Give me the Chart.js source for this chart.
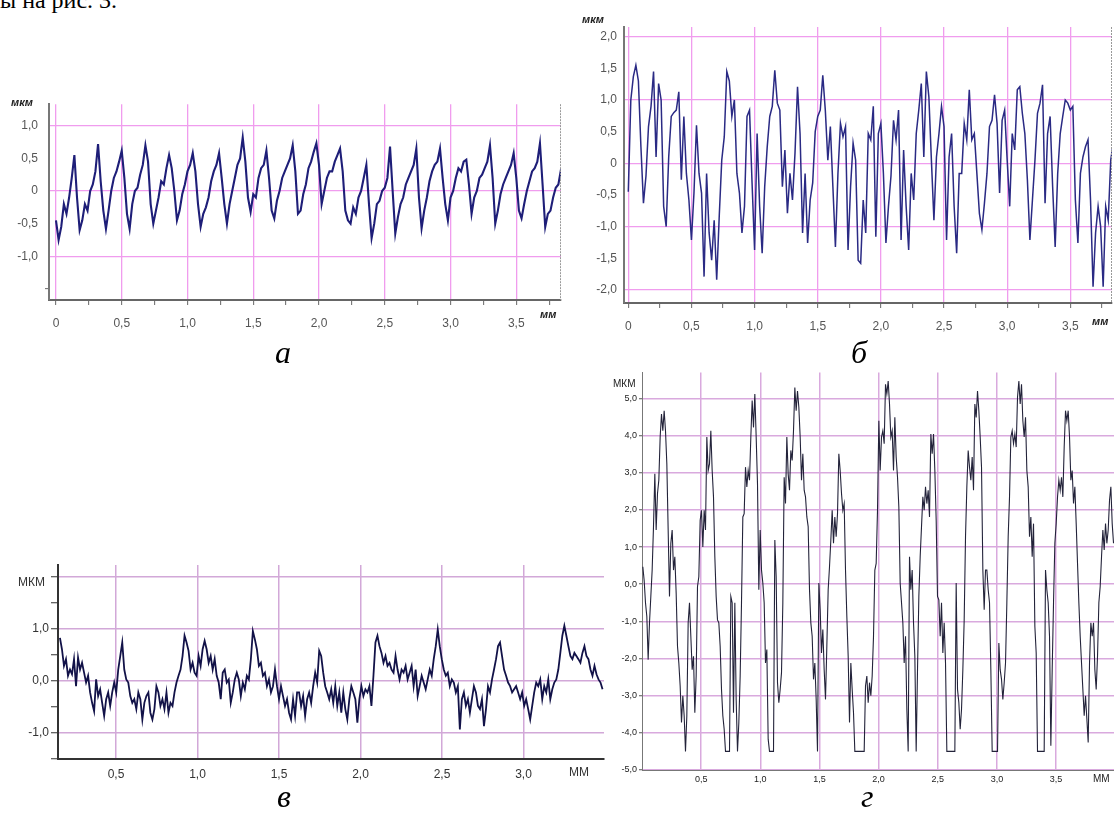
<!DOCTYPE html>
<html>
<head>
<meta charset="utf-8">
<script src="https://cdn.jsdelivr.net/npm/chart.js@4.4.0/dist/chart.umd.min.js"></script>
<style>
  html, body { margin: 0; padding: 0; background: #fff; width: 1114px; height: 816px; overflow: hidden; position: relative; font-family: "Liberation Sans", Arial, sans-serif; }
  .box { position: absolute; }
  .box canvas { display: block; }
  .t { position: absolute; white-space: nowrap; line-height: 1; }
  .cap { font-family: "Liberation Serif", "Times New Roman", serif; font-style: italic; font-size: 32px; color: #000; }
  .u1 { font-style: italic; font-weight: bold; font-size: 11px; color: #222; }
  .u2 { font-size: 12px; color: #333; }
  .u3 { font-size: 10px; color: #222; }
</style>
</head>
<body>
<div class="t" style="left:0;top:-12px;font-family:'Liberation Serif',serif;font-size:24px;">ы на рис. 3.</div>

<div class="box" style="left:0;top:90px;width:575px;height:250px"><canvas id="chartA"></canvas></div>
<div class="box" style="left:575px;top:0;width:539px;height:345px"><canvas id="chartB"></canvas></div>
<div class="box" style="left:0;top:545px;width:615px;height:250px"><canvas id="chartC"></canvas></div>
<div class="box" style="left:600px;top:365px;width:514px;height:451px"><canvas id="chartD"></canvas></div>

<div class="t u1" style="left:11px;top:97px">мкм</div>
<div class="t u1" style="left:540px;top:309px">мм</div>
<div class="t u1" style="left:582px;top:14px">мкм</div>
<div class="t u1" style="left:1092px;top:316px">мм</div>
<div class="t u2" style="left:18px;top:576px">МКМ</div>
<div class="t u2" style="left:569px;top:766px">ММ</div>
<div class="t u3" style="left:613px;top:379px">МКМ</div>
<div class="t u3" style="left:1093px;top:774px">ММ</div>

<div class="t cap" style="left:275px;top:336px">а</div>
<div class="t cap" style="left:851px;top:336px">б</div>
<div class="t cap" style="left:277px;top:780px">в</div>
<div class="t cap" style="left:861px;top:780px">г</div>

<script>
// profile heights, µm, sampled evenly along the trace (mm)
const profileA = [
  -0.45, -0.75, -0.55, -0.2, -0.35, -0.1, 0.2, 0.55, -0.1, -0.6,
  -0.45, -0.2, -0.3, 0.0, 0.1, 0.3, 0.72, 0.15, -0.3, -0.58,
  -0.3, 0.0, 0.2, 0.3, 0.45, 0.62, 0.2, -0.35, -0.58, -0.2,
  0.0, 0.05, 0.25, 0.4, 0.7, 0.45, -0.2, -0.5, -0.3, -0.1,
  0.15, 0.1, 0.35, 0.55, 0.35, 0.0, -0.45, -0.3, -0.05, 0.1,
  0.3, 0.4, 0.58, 0.3, -0.2, -0.55, -0.35, -0.25, -0.1, 0.15,
  0.3, 0.4, 0.58, 0.2, -0.2, -0.5, -0.2, 0.0, 0.2, 0.4,
  0.5, 0.82, 0.45, -0.1, -0.32, -0.05, -0.1, 0.2, 0.35, 0.4,
  0.62, 0.2, -0.3, -0.42, -0.15, 0.0, 0.2, 0.3, 0.4, 0.5,
  0.7, 0.3, -0.35, -0.3, -0.05, 0.1, 0.35, 0.45, 0.6, 0.73,
  0.4, -0.2, 0.0, 0.2, 0.3, 0.3, 0.45, 0.55, 0.65, 0.3,
  -0.3, -0.45, -0.5, -0.25, -0.35, -0.1, 0.0, 0.2, 0.4, -0.2,
  -0.72, -0.5, -0.2, -0.15, 0.0, 0.05, 0.2, 0.68, 0.0, -0.65,
  -0.4, -0.2, -0.1, 0.1, 0.2, 0.3, 0.4, 0.65, -0.1, -0.57,
  -0.3, -0.1, 0.15, 0.3, 0.4, 0.45, 0.65, 0.2, -0.2, -0.45,
  -0.1, 0.0, 0.2, 0.35, 0.3, 0.45, 0.48, 0.1, -0.35, -0.1,
  0.0, 0.2, 0.25, 0.35, 0.45, 0.7, 0.2, -0.5, -0.3, -0.05,
  0.1, 0.2, 0.3, 0.4, 0.58, 0.2, -0.3, -0.42, -0.2, 0.0,
  0.15, 0.3, 0.35, 0.45, 0.73, 0.1, -0.55, -0.35, -0.3, -0.1,
  0.05, 0.1, 0.33
];

const profileB = [
  -0.45, 1.0, 1.37, 1.55, 1.3, 0.26, -0.63, -0.2, 0.58, 0.9,
  1.45, 0.1, 1.26, 1.0, -0.68, -1.0, 0.1, 0.74, 0.8, 0.84,
  1.13, -0.26, 0.74, -0.16, -0.58, -1.21, -0.47, 0.6, -0.16, -0.47,
  -1.79, -0.16, -1.1, -1.53, -0.9, -1.84, -0.84, 0.05, 0.42, 1.45,
  1.3, 0.74, 1.0, -0.16, -0.47, -1.1, -0.68, 0.74, 0.84, -0.31,
  -1.37, 0.47, -0.68, -1.42, -0.37, 0.26, 0.74, 0.9, 1.47, 0.95,
  0.84, -0.37, 0.21, -0.79, -0.16, -0.58, 0.16, 1.21, 0.47, -1.1,
  -0.16, -1.26, -0.58, -0.31, 0.5, 0.74, 0.84, 1.39, 0.84, 0.05,
  0.58, -0.37, -1.32, -0.16, 0.63, 0.42, 0.58, -1.37, -0.37, 0.32,
  0.05, -1.53, -1.58, -0.58, -1.1, 0.47, 0.37, 0.9, -1.16, 0.47,
  0.63, -0.16, -1.26, -0.68, -0.2, 0.68, 0.37, 0.84, -1.21, 0.21,
  -0.68, -1.37, -0.16, -0.58, 0.47, 0.84, 1.26, 0.1, 1.45, 1.05,
  0.05, -0.9, 0.1, 0.47, 0.9, 0.58, -1.21, 0.1, 0.47, -0.68,
  -1.42, -0.16, -0.16, 0.63, 0.37, 1.16, 0.37, 0.47, -0.16, -0.79,
  -1.05, -0.63, -0.16, 0.58, 0.68, 1.08, 0.63, -0.47, 0.68, 0.84,
  0.05, -0.68, 0.47, 0.21, 1.16, 1.21, 0.79, 0.47, -0.26, -1.21,
  -0.58, 0.05, 0.79, 0.95, 1.24, -0.63, 0.47, 0.74, -0.37, -1.32,
  -0.16, 0.47, 0.74, 1.0, 0.95, 0.84, 0.9, -0.58, -1.26, -0.16,
  0.1, 0.26, 0.37, -0.58, -1.95, -1.1, -0.68, -1.0, -1.95, -0.68,
  -0.9, 0.05, 0.32
];

const profileC = [
  0.83, 0.61, 0.29, 0.42, 0.1, 0.22, 0.13, 0.42, -0.1, 0.45,
  0.22, 0.35, 0.16, -0.03, 0.1, -0.22, -0.42, -0.58, 0.03, -0.29,
  -0.16, -0.42, -0.67, -0.35, -0.22, -0.48, -0.22, -0.03, -0.22, 0.22,
  0.48, 0.74, 0.22, 0.03, -0.03, -0.29, -0.42, -0.35, -0.54, -0.22,
  -0.35, -0.74, -0.42, -0.29, -0.22, -0.61, -0.74, -0.54, -0.1, -0.22,
  -0.48, -0.35, -0.54, -0.22, -0.61, -0.42, -0.48, -0.22, -0.03, 0.1,
  0.22, 0.48, 0.87, 0.74, 0.58, 0.22, 0.35, 0.16, 0.1, 0.48,
  0.29, 0.61, 0.77, 0.61, 0.35, 0.48, 0.22, 0.42, 0.1, -0.03,
  -0.35, 0.16, 0.22, -0.03, 0.03, -0.42, -0.22, 0.03, 0.16, 0.03,
  -0.29, -0.03, -0.16, 0.1, 0.03, 0.42, 0.96, 0.8, 0.61, 0.29,
  0.35, 0.1, 0.16, -0.1, 0.03, -0.22, -0.1, 0.22, -0.1, -0.35,
  -0.1, -0.29, -0.48, -0.35, -0.61, -0.74, -0.35, -0.67, -0.22, -0.22,
  -0.48, -0.29, -0.67, -0.35, -0.22, -0.42,
  -0.1, 0.16, -0.03, 0.58, 0.48, 0.16, -0.1, -0.22, -0.35, -0.16,
  -0.42, -0.1, -0.48, -0.22, -0.61, -0.22, -0.54, -0.74, -0.35, -0.1,
  -0.22, -0.35, -0.8, -0.35, -0.1, -0.29, -0.16, -0.22, -0.1, -0.48,
  0.1, 0.74, 0.87, 0.67, 0.54, 0.35, 0.48, 0.29, 0.35, 0.22,
  0.16, 0.48, 0.22, 0.03, 0.22, 0.16, 0.29, 0.03, 0.16, 0.29,
  -0.1, 0.22, -0.29, -0.1, 0.1, -0.03, -0.16, 0.03, 0.22, 0.1,
  0.42, 0.67, 0.99, 0.67, 0.42, 0.22, 0.1, 0.16, -0.1, 0.03,
  -0.03, -0.22, -0.1, -0.93, -0.35, -0.22, -0.48, -0.35, -0.61, -0.35,
  -0.1, -0.22, -0.48, -0.54, -0.35, -0.87, -0.54, -0.1, -0.22, 0.03,
  0.22, 0.42, 0.67, 0.74, 0.48, 0.22, 0.1, -0.03, -0.1, -0.22,
  -0.16, -0.1, -0.22, -0.35, -0.22, -0.48, -0.35, -0.54, -0.74, -0.48,
  -0.22, -0.03, -0.1, 0.03, -0.35, -0.1, -0.22, 0.03, -0.35, -0.16,
  -0.03, 0.03, 0.22, 0.54, 0.87, 1.06, 0.87, 0.67, 0.48, 0.42,
  0.54, 0.48, 0.42, 0.35, 0.54, 0.67, 0.48, 0.42, 0.22, 0.1,
  0.29, 0.13, 0.03, -0.03, -0.16
];

const profileD = [
  0.47, 0.1, -0.5, -0.87, -2.03, -1.04, -0.33, 0.38, 1.55, 2.97,
  1.46, 2.44, 2.8, 3.96, 4.58, 4.13, 4.67, 4.13, 3.24, 1.46,
  -0.33, 1.1, 1.46, 0.38, 0.74, -0.24, -1.67, -2.12, -2.74, -3.72,
  -3.0, -3.54, -4.5, -3.54, -1.04, -0.5, -1.4, -2.3, -1.94, -3.46,
  -2.47, -0.06, 0.2, 1.72, 1.99, 1.0, 1.99, 1.46, 3.96, 3.06,
  3.24, 4.13, 3.06, 2.35, 0.74, -0.33, -0.96, -1.04, -1.67, -2.83,
  -3.54, -3.9, -4.5, -4.5, -4.5, -4.5, -0.33, -0.5, -3.46, -0.5,
  -3.1, -4.5, -3.72, -2.47, -0.5, 1.81, 1.9, 3.15, 2.62, 3.06,
  2.8, 3.96, 4.94, 4.22, 5.12, 3.96, 2.7, -0.15, 1.46, 0.38,
  0.03, -0.5, -2.12, -1.76, -4.17, -4.5, -4.5, -4.5, -4.5, 1.19,
  0.2, -2.65, -3.19, -2.83, -2.38, -0.5, 2.88, 2.17, 3.96, 2.97,
  2.53, 3.6, 3.33, 4.13, 5.29, 4.67, 5.2, 4.76, 3.96, 2.8,
  3.51, 2.53, 2.35, 1.81, 1.55, -0.15, -1.04, -1.4, -2.56, -2.12,
  -3.1, -4.5, 0.03, -0.69, -1.85, -1.22, -2.3, -3.1, -1.67, -0.15,
  0.47, 1.19, 1.99, 1.1, 1.81, 1.28, 1.9, 3.51, 3.06, 2.44,
  1.99, 2.17, 0.38, -0.87, -1.94, -3.72, -2.12, -2.83, -3.46, -4.5,
  -4.5, -4.5, -4.5, -4.5, -4.5, -4.5, -4.5,
  -2.74, -2.47, -3.19, -2.65, -3.0, -2.47, -1.4, 0.38, 0.56, 1.99,
  4.4, 3.06, 3.96, 4.13, 3.78, 5.38, 5.12, 5.47, 4.85, 3.96,
  4.13, 3.06, 4.49, 3.42, 2.88, 2.08, 0.03, -0.5, -1.04, -2.12,
  -1.4, -3.37, -4.5, 0.74, -0.15, 0.38, -1.04, -1.94, -4.5, -2.3,
  -0.33, 0.74, 1.55, 2.35, 1.99, 2.62, 2.17, 2.53, 1.81, 4.04,
  3.51, 4.04, 3.06, 1.72, -0.33, -0.42, -1.4, -0.5, -1.85, -1.04,
  -2.12, -4.5, -4.5, -4.5, -4.5, -4.5, -4.5, -4.5, 0.03, -2.83,
  -3.19, -3.9, -3.37, -2.3, -0.96, 1.28, 2.62, 3.6, 3.15, 2.8,
  3.42, 2.53, 4.85, 4.49, 5.2, 4.67, 3.96, 3.15, 0.38, -0.69,
  0.38, 0.38, -0.15, -0.5, -2.3, -4.5, -4.5, -4.5, -4.5, -4.5,
  -1.58, -2.3, -2.56, -3.1, -2.65, -2.12, -0.5, 1.28, 2.35, 3.96,
  4.13, 3.78, 4.04, 3.69, 5.03, 5.47, 4.85, 5.38, 4.4, 3.96,
  4.49, 3.06, 2.62, 1.28, 1.81, 0.74, 1.63, -1.13, -1.85, -4.5,
  -4.5, -4.5, -4.5, -4.5, -4.5, 0.38, -0.15, -0.5, -1.4, -4.35,
  -2.3, -0.5, 1.1, 1.63, 2.35, 2.8, 2.53, 2.88, 2.35, 3.69,
  4.67, 4.4, 4.67, 3.96, 2.8, 3.06, 2.17, 2.62, 1.63, 0.56,
  -0.5, -1.4, -2.12, -2.83, -3.54, -3.0, -3.63, -4.26, -2.12, -1.04,
  -1.4, -1.04, -2.3, -2.83, -1.94, -0.5, -0.06, 0.74, 1.46, 0.92,
  1.63, 1.1, 1.46, 2.26, 2.62, 1.63, 1.1
];

// trace extents along the surface, mm
const traceA = [0, 3.84];
const traceB = [0, 3.84];
const traceC = [0.156, 3.485];
const traceD = [0.007, 3.986];

// tick positions
const xTicksAB = [0, 0.25, 0.5, 0.75, 1, 1.25, 1.5, 1.75, 2, 2.25, 2.5, 2.75, 3, 3.25, 3.5, 3.75];
const xLabelsAB = [0, 0.5, 1, 1.5, 2, 2.5, 3, 3.5];
const xTicksC = [0.5, 1, 1.5, 2, 2.5, 3];
const xTicksD = [0.5, 1, 1.5, 2, 2.5, 3, 3.5];

const yTicksA = [-1.5, -1, -0.5, 0, 0.5, 1];
const yLabelsA = [-1, -0.5, 0, 0.5, 1];
const yGridA = [-1, 0, 1];
const yTicksB = [-2, -1.5, -1, -0.5, 0, 0.5, 1, 1.5, 2];
const yGridB = [-2, -1, 0, 1, 2];
const yTicksC = [-1.5, -1, -0.5, 0, 0.5, 1, 1.5, 2];
const yLabelsC = [-1, 0, 1];
const yGridC = [-1, 0, 1, 2];
const yTicksD = [-5, -4, -3, -2, -1, 0, 1, 2, 3, 4, 5];

const FONT = '"Liberation Sans", Arial, sans-serif';

function commaLabel(v, zero) {
  return v === 0 ? zero : v.toFixed(1).replace('.', ',');
}
const has = (arr, v) => arr.some(a => Math.abs(a - v) < 1e-6);

const edgeLine = {
  id: 'edgeLine',
  afterDraw(chart, args, opts) {
    if (!opts.color) return;
    const { ctx, chartArea: a } = chart;
    ctx.save();
    ctx.strokeStyle = opts.color;
    ctx.lineWidth = 1;
    ctx.setLineDash([2, 1]);
    ctx.beginPath();
    ctx.moveTo(a.right - 0.5, a.top);
    ctx.lineTo(a.right - 0.5, a.bottom);
    ctx.stroke();
    ctx.restore();
  }
};

function profileChart(id, o) {
  const step = (o.trace[1] - o.trace[0]) / (o.values.length - 1);
  const pts = o.values.map((v, i) => ({ x: o.trace[0] + i * step, y: v }));
  const tickGrid = (list, color) => c => (c.tick && has(list, c.tick.value)) ? color : 'rgba(0,0,0,0)';

  return new Chart(document.getElementById(id), {
    type: 'line',
    data: {
      datasets: [{
        data: pts,
        borderColor: o.lineColor,
        borderWidth: o.lineWidth,
        pointRadius: 0,
        tension: 0
      }]
    },
    options: {
      responsive: true,
      maintainAspectRatio: false,
      animation: false,
      parsing: false,
      layout: { padding: o.padding },
      plugins: {
        legend: { display: false },
        tooltip: { enabled: false },
        edgeLine: { color: o.edgeColor || null }
      },
      scales: {
        x: {
          type: 'linear',
          min: o.xMin,
          max: o.xMax,
          afterBuildTicks: s => { s.ticks = o.xTicks.map(v => ({ value: v })); },
          afterFit: s => { s.height = o.xAxisH; },
          ticks: {
            autoSkip: false,
            maxRotation: 0,
            padding: o.xPad,
            color: o.textColor,
            font: { family: FONT, size: o.fontSize },
            callback: v => has(o.xLabels, v) ? commaLabel(v, '0') : ''
          },
          grid: {
            color: tickGrid(o.xLabels, o.gridColor),
            lineWidth: o.gridWidth,
            drawTicks: o.xTickLen > 0,
            tickLength: o.xTickLen,
            tickColor: o.tickColor,
            tickWidth: 1
          },
          border: { color: o.xAxisColor, width: o.xAxisWidth }
        },
        y: {
          type: 'linear',
          min: o.yMin,
          max: o.yMax,
          afterBuildTicks: s => { s.ticks = o.yTicks.map(v => ({ value: v })); },
          afterFit: s => { s.width = o.yAxisW; },
          ticks: {
            autoSkip: false,
            padding: o.yPad,
            color: o.textColor,
            font: { family: FONT, size: o.fontSize },
            callback: v => has(o.yLabels, v) ? commaLabel(v, o.zero) : ''
          },
          grid: {
            color: tickGrid(o.yGrid, o.gridColor),
            lineWidth: o.gridWidth,
            drawTicks: o.yTickLen > 0,
            tickLength: o.yTickLen,
            tickColor: tickGrid(o.yMarks, o.tickColor),
            tickWidth: 1
          },
          border: { color: o.yAxisColor, width: o.yAxisWidth }
        }
      }
    },
    plugins: [edgeLine]
  });
}

profileChart('chartA', {
  values: profileA, trace: traceA,
  xMin: -0.053, xMax: 3.84, yMin: -1.67, yMax: 1.33,
  padding: { top: 10, right: 14, left: 0, bottom: 0 },
  yAxisW: 49, xAxisH: 40,
  xTicks: xTicksAB, xLabels: xLabelsAB, xTickLen: 5, xPad: 11,
  yTicks: yTicksA, yLabels: yLabelsA, yGrid: yGridA, yMarks: [-1.5], yTickLen: 4, yPad: 7,
  zero: '0', fontSize: 12, textColor: '#555',
  gridColor: '#f09cee', gridWidth: 1.3, tickColor: '#666',
  xAxisColor: '#666', xAxisWidth: 2, yAxisColor: '#777', yAxisWidth: 2,
  lineColor: '#1e1e78', lineWidth: 2.1, edgeColor: '#999'
});

profileChart('chartB', {
  values: profileB, trace: traceB,
  xMin: -0.034, xMax: 3.83, yMin: -2.207, yMax: 2.153,
  padding: { top: 27, right: 2, left: 0, bottom: 0 },
  yAxisW: 49, xAxisH: 42,
  xTicks: xTicksAB, xLabels: xLabelsAB, xTickLen: 5, xPad: 11,
  yTicks: yTicksB, yLabels: yTicksB, yGrid: yGridB, yMarks: [], yTickLen: 4, yPad: 3,
  zero: '0', fontSize: 12, textColor: '#555',
  gridColor: '#f09cee', gridWidth: 1.3, tickColor: '#666',
  xAxisColor: '#666', xAxisWidth: 2, yAxisColor: '#777', yAxisWidth: 2,
  lineColor: '#2a2a84', lineWidth: 1.5, edgeColor: '#999'
});

profileChart('chartC', {
  values: profileC, trace: traceC,
  xMin: 0.144, xMax: 3.494, yMin: -1.5, yMax: 2.23,
  padding: { top: 20, right: 11, left: 0, bottom: 0 },
  yAxisW: 58, xAxisH: 36,
  xTicks: xTicksC, xLabels: xTicksC, xTickLen: 0, xPad: 8,
  yTicks: yTicksC, yLabels: yLabelsC, yGrid: yGridC, yMarks: yTicksC, yTickLen: 7, yPad: 2,
  zero: '0,0', fontSize: 12, textColor: '#333',
  gridColor: '#d2a8d8', gridWidth: 1.5, tickColor: '#333',
  xAxisColor: '#333', xAxisWidth: 2, yAxisColor: '#333', yAxisWidth: 2,
  lineColor: '#121248', lineWidth: 1.8
});

profileChart('chartD', {
  values: profileD, trace: traceD,
  xMin: 0, xMax: 3.99, yMin: -5, yMax: 5.7,
  padding: { top: 7, right: 0, left: 0, bottom: 0 },
  yAxisW: 42, xAxisH: 46,
  xTicks: xTicksD, xLabels: xTicksD, xTickLen: 0, xPad: 4,
  yTicks: yTicksD, yLabels: yTicksD, yGrid: yTicksD, yMarks: yTicksD, yTickLen: 3, yPad: 2,
  zero: '0,0', fontSize: 9, textColor: '#222',
  gridColor: '#d9a9de', gridWidth: 1.5, tickColor: '#555',
  xAxisColor: '#777', xAxisWidth: 1, yAxisColor: '#777', yAxisWidth: 1,
  lineColor: '#23233a', lineWidth: 1.1
});
</script>
</body>
</html>
